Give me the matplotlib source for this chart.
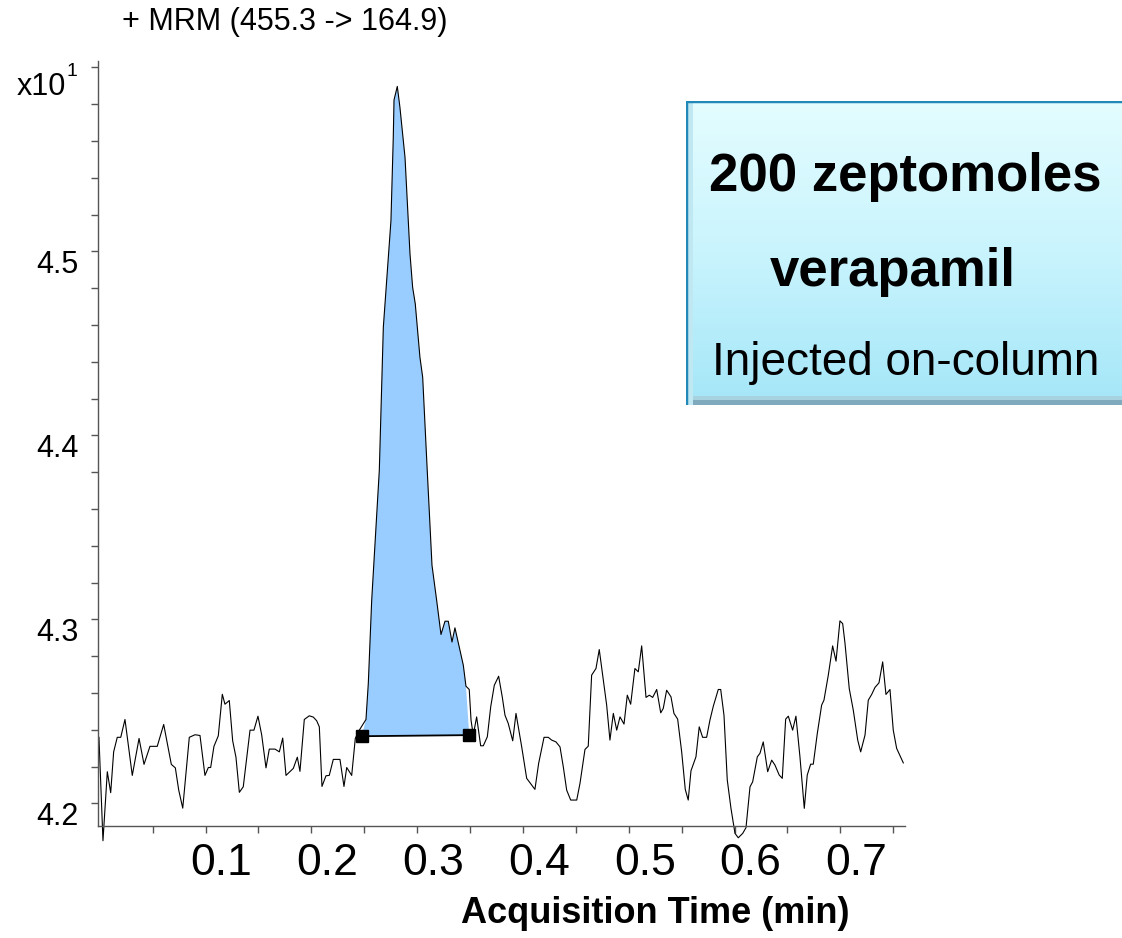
import numpy as np
import matplotlib.pyplot as plt
from matplotlib.transforms import ScaledTranslation
from matplotlib.colors import LinearSegmentedColormap

plt.rcParams['font.family'] = ['Liberation Sans', 'DejaVu Sans']

# acquisition time (min) and counts (x10^1)
time = [
    -0.0508, -0.0470, -0.0429, -0.0397, -0.0369, -0.0335, -0.0302, -0.0262, -0.0193, -0.0129,
    -0.0082, -0.0026, 0.0043, 0.0104, 0.0176, 0.0214, 0.0246, 0.0284, 0.0346, 0.0400,
    0.0447, 0.0494, 0.0526, 0.0548, 0.0579, 0.0620, 0.0658, 0.0683, 0.0724, 0.0756,
    0.0787, 0.0819, 0.0856, 0.0920, 0.0957, 0.0995, 0.1030, 0.1071, 0.1102, 0.1156,
    0.1197, 0.1229, 0.1260, 0.1329, 0.1367, 0.1392, 0.1433, 0.1480, 0.1518, 0.1550,
    0.1575, 0.1600, 0.1638, 0.1669, 0.1707, 0.1770, 0.1808, 0.1834, 0.1881, 0.1915,
    0.1953, 0.2016, 0.2038, 0.2070, 0.2142, 0.2180, 0.2252, 0.2274, 0.2281, 0.2312,
    0.2337, 0.2385, 0.2432, 0.2457, 0.2482, 0.2526, 0.2552, 0.2595, 0.2640, 0.2684,
    0.2725, 0.2763, 0.2794, 0.2829, 0.2857, 0.2898, 0.2936, 0.2961, 0.2992, 0.3009,
    0.3030, 0.3062, 0.3100, 0.3125, 0.3163, 0.3195, 0.3229, 0.3270, 0.3304, 0.3330,
    0.3361, 0.3403, 0.3434, 0.3488, 0.3535, 0.3613, 0.3648, 0.3699, 0.3739, 0.3771,
    0.3812, 0.3850, 0.3881, 0.3913, 0.3951, 0.4008, 0.4039, 0.4086, 0.4117, 0.4149,
    0.4190, 0.4221, 0.4259, 0.4291, 0.4322, 0.4354, 0.4386, 0.4417, 0.4455, 0.4486,
    0.4518, 0.4558, 0.4590, 0.4622, 0.4663, 0.4694, 0.4726, 0.4764, 0.4802, 0.4826,
    0.4858, 0.4899, 0.4927, 0.4962, 0.5000, 0.5034, 0.5062, 0.5088, 0.5135, 0.5166,
    0.5198, 0.5236, 0.5267, 0.5299, 0.5346, 0.5369, 0.5400, 0.5431, 0.5466, 0.5504,
    0.5535, 0.5577, 0.5608, 0.5646, 0.5671, 0.5715, 0.5740, 0.5771, 0.5813, 0.5851,
    0.5882, 0.5922, 0.5951, 0.5983, 0.6008, 0.6049, 0.6080, 0.6118, 0.6159, 0.6187,
    0.6219, 0.6244, 0.6282, 0.6323, 0.6345, 0.6386, 0.6427, 0.6459, 0.6496, 0.6522,
    0.6544, 0.6584, 0.6622, 0.6664, 0.6692, 0.6733, 0.6764, 0.6796, 0.6827, 0.6865,
    0.6900, 0.6931, 0.6969, 0.7000, 0.7032, 0.7095,
]
counts = [
    4.2359, 4.1797, 4.2172, 4.2058, 4.2280, 4.2359, 4.2359, 4.2456, 4.2152, 4.2353,
    4.2212, 4.2310, 4.2310, 4.2429, 4.2212, 4.2193, 4.2072, 4.1974, 4.2359, 4.2373,
    4.2369, 4.2152, 4.2195, 4.2195, 4.2310, 4.2367, 4.2593, 4.2539, 4.2559, 4.2340,
    4.2251, 4.2060, 4.2090, 4.2398, 4.2398, 4.2474, 4.2373, 4.2193, 4.2295, 4.2295,
    4.2280, 4.2355, 4.2152, 4.2190, 4.2251, 4.2174, 4.2456, 4.2476, 4.2469, 4.2449,
    4.2416, 4.2092, 4.2150, 4.2152, 4.2239, 4.2239, 4.2092, 4.2195, 4.2152, 4.2353,
    4.2398, 4.2456, 4.2652, 4.3104, 4.3810, 4.4588, 4.5167, 4.5620, 4.5823, 4.5897,
    4.5783, 4.5511, 4.4987, 4.4805, 4.4715, 4.4425, 4.4316, 4.3810, 4.3294, 4.3104,
    4.2918, 4.2990, 4.2990, 4.2877, 4.2954, 4.2850, 4.2751, 4.2637, 4.2619, 4.2452,
    4.2371, 4.2470, 4.2313, 4.2313, 4.2362, 4.2525, 4.2642, 4.2691, 4.2579, 4.2479,
    4.2434, 4.2340, 4.2489, 4.2307, 4.2136, 4.2076, 4.2217, 4.2359, 4.2359, 4.2344,
    4.2334, 4.2307, 4.2199, 4.2072, 4.2018, 4.2018, 4.2109, 4.2293, 4.2311, 4.2697,
    4.2733, 4.2836, 4.2670, 4.2534, 4.2344, 4.2489, 4.2398, 4.2470, 4.2431, 4.2588,
    4.2539, 4.2733, 4.2715, 4.2856, 4.2576, 4.2588, 4.2576, 4.2619, 4.2492, 4.2516,
    4.2615, 4.2579, 4.2489, 4.2458, 4.2280, 4.2076, 4.2018, 4.2177, 4.2253, 4.2416,
    4.2359, 4.2359, 4.2452, 4.2528, 4.2619, 4.2619, 4.2479, 4.2127, 4.1973, 4.1837,
    4.1813, 4.1837, 4.1868, 4.2090, 4.2117, 4.2253, 4.2272, 4.2334, 4.2172, 4.2235,
    4.2208, 4.2154, 4.2136, 4.2458, 4.2474, 4.2398, 4.2474, 4.2253, 4.1973, 4.2154,
    4.2213, 4.2213, 4.2380, 4.2534, 4.2561, 4.2697, 4.2856, 4.2773, 4.2992, 4.2977,
    4.2869, 4.2624, 4.2507, 4.2344, 4.2280, 4.2371, 4.2561, 4.2592, 4.2630, 4.2655,
    4.2769, 4.2592, 4.2619, 4.2398, 4.2299, 4.2220,
]

# integration baseline (start / end markers)
peak_t = [0.1975, 0.2992]
peak_v = [4.2365, 4.2371]

xtick_vals = [0.1, 0.2, 0.3, 0.4, 0.5, 0.6, 0.7]
xtick_labels = ['0.1', '0.2', '0.3', '0.4', '0.5', '0.6', '0.7']
ytick_vals = [4.2, 4.3, 4.4, 4.5]
ytick_labels = ['4.2', '4.3', '4.4', '4.5']

fig = plt.figure(figsize=(11.22, 9.38), dpi=100)
ax = fig.add_axes([98 / 1122, 1 - 826 / 938, (905 - 98) / 1122, (826 - 61) / 938])

t = np.array(time)
c = np.array(counts)
inside = (t > peak_t[0]) & (t < peak_t[1])
poly_t = [peak_t[0]] + list(t[inside]) + [peak_t[1]]
poly_v = [peak_v[0]] + list(c[inside]) + [peak_v[1]]
ax.fill(poly_t, poly_v, color='#99ccff', lw=0, zorder=1)
ax.plot(t, c, color='black', lw=0.8, clip_on=False, zorder=2)
ax.plot(peak_t, peak_v, color='black', lw=1.3, zorder=3)
ax.plot(peak_t, peak_v, 's', color='black', ms=9, zorder=4, clip_on=False)

ax.set_xlim(-0.0517, 0.7111)
ax.set_ylim(4.1877, 4.6035)

for s in ['top', 'right']:
    ax.spines[s].set_visible(False)
for s in ['left', 'bottom']:
    ax.spines[s].set_color('#555555')
    ax.spines[s].set_linewidth(1.0)

ax.set_xticks(xtick_vals)
ax.set_xticklabels(xtick_labels, fontsize=32, ha='right')
ax.set_xticks(np.arange(0, 0.71, 0.05), minor=True)
ax.set_yticks(ytick_vals)
ax.set_yticklabels(ytick_labels, fontsize=22)
ax.set_yticks(np.arange(4.22, 4.605, 0.02), minor=True)
ax.tick_params(which='both', direction='out', length=5, width=1, color='#555555')
ax.tick_params(axis='x', pad=7)
ax.tick_params(axis='y', pad=9)

for lab in ax.get_xticklabels():
    lab.set_transform(lab.get_transform() + ScaledTranslation(-0.06, 0, fig.dpi_scale_trans))
for lab in ax.get_yticklabels():
    lab.set_transform(lab.get_transform() + ScaledTranslation(0, -0.10, fig.dpi_scale_trans))

fig.text(122 / 1122, 1 - 22 / 938, '+ MRM (455.3 -> 164.9)', fontsize=22, va='center', ha='left')
fig.text(17 / 1122, 1 - 95 / 938, 'x10', fontsize=22, va='baseline', ha='left')
fig.text(66 / 1122, 1 - 76 / 938, '1', fontsize=14, va='baseline', ha='left')
fig.text(655 / 1122, 1 - 913 / 938, 'Acquisition Time (min)', fontsize=26,
         fontweight='bold', ha='center', va='center')

# annotation box with vertical gradient
bx0, bx1, by0, by1 = 686, 1122, 101, 405
bax = fig.add_axes([bx0 / 1122, 1 - by1 / 938, (bx1 - bx0) / 1122, (by1 - by0) / 938], zorder=5)
cmap = LinearSegmentedColormap.from_list('box', ['#e4fdff', '#c9f4fd', '#a4e6f8'])
grad = np.linspace(0, 1, 256).reshape(-1, 1)
bax.imshow(grad, aspect='auto', cmap=cmap, extent=[0, 1, 0, 1], origin='upper')
bax.set_xlim(0, 1)
bax.set_ylim(0, 1)
bax.axis('off')
# bevel
bax.axhspan(0, 5 / 304, color='#7faabd', lw=0)
bax.axhspan(5 / 304, 9 / 304, color='#a7d2e0', lw=0)
bax.axvspan(0, 7 / 436, color='#bfe8f3', lw=0)
bax.plot([0, 0], [0, 1], color='#2288b8', lw=2.5)
bax.plot([0, 1], [1, 1], color='#2288b8', lw=2.5)

fig.text(709 / 1122, 1 - 191 / 938, '200 zeptomoles', fontsize=38, fontweight='bold',
         va='baseline', ha='left', zorder=10)
fig.text(770 / 1122, 1 - 286 / 938, 'verapamil', fontsize=38, fontweight='bold',
         va='baseline', ha='left', zorder=10)
fig.text(712 / 1122, 1 - 375 / 938, 'Injected on-column', fontsize=33,
         va='baseline', ha='left', zorder=10)

fig.savefig('out.png', dpi=100)
